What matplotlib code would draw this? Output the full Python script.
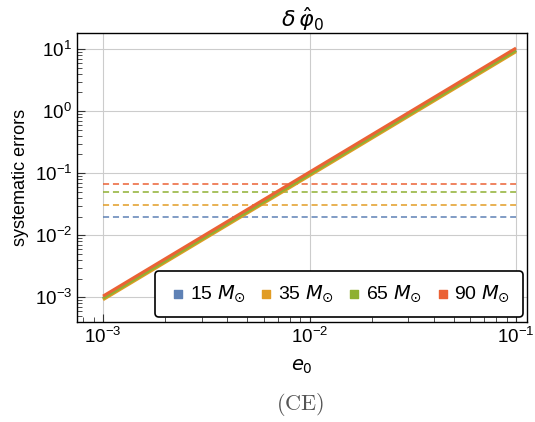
import numpy as np
import matplotlib.pyplot as plt

# masses and colours (Mathematica default palette)
masses = [15, 35, 65, 90]
colors = ['#5E81B5', '#E19C24', '#8FB032', '#EB6235']

# systematic error lines at e0 endpoints
e0 = [1e-3, 1e-1]
err_15 = [9.5e-4, 9.5]
err_35 = [9.1e-4, 9.1]
err_65 = [9.6e-4, 9.6]
err_90 = [1.04e-3, 10.4]
errs = [err_15, err_35, err_65, err_90]

# statistical error levels (dashed)
stat = [0.020, 0.031, 0.049, 0.068]


def main():
    plt.rcParams['font.family'] = ['Liberation Sans', 'DejaVu Sans']
    plt.rcParams['mathtext.fontset'] = 'dejavusans'

    fig = plt.figure(figsize=(5.35, 4.22), dpi=100)
    ax = fig.add_axes([77 / 535, 1 - 322 / 422, 450 / 535, 289 / 422])

    for m, c, y, s in zip(masses, colors, errs, stat):
        ax.plot(e0, [s, s], color=c, lw=1.1, ls=(0, (4, 2.5)))
    for m, c, y in zip(masses, colors, errs):
        ax.plot(e0, y, color=c, lw=2.2, solid_capstyle='butt')

    ax.set_xscale('log')
    ax.set_yscale('log')
    ax.set_xlim(10 ** -3.126, 10 ** -0.947)
    ax.set_ylim(10 ** -3.40, 10 ** 1.26)

    ax.grid(True, which='major', color='#cccccc', lw=0.8)
    ax.tick_params(which='both', direction='in', top=False, right=False,
                   labelsize=13.5, color='#333333')
    ax.tick_params(which='major', length=6)
    ax.tick_params(which='minor', length=3.5)
    for sp in ax.spines.values():
        sp.set_linewidth(1.0)

    ax.set_xlabel(r'$e_0$', fontsize=14, labelpad=8)
    ax.set_ylabel('systematic errors', fontsize=13)
    ax.set_title(r'$\delta\,\hat{\varphi}_0$', fontsize=16, pad=4)

    handles = [ax.scatter([], [], marker='s', s=26, color=c, edgecolors=c)
               for c in colors]
    labels = [r'%d $M_{\odot}$' % m for m in masses]
    leg = ax.legend(handles, labels, loc='lower right', ncol=4, fontsize=14,
                    handletextpad=0.05, columnspacing=0.5, borderpad=0.65,
                    handlelength=1.1, fancybox=True, framealpha=1,
                    borderaxespad=0, bbox_to_anchor=(0.991, 0.017))
    leg.get_frame().set_edgecolor('black')
    leg.get_frame().set_linewidth(1.2)

    fig.text(300 / 535, 1 - 405 / 422, r'$\mathrm{(CE)}$', ha='center',
             va='center', fontsize=16, color='#555555', math_fontfamily='cm')

    fig.savefig('out.png', dpi=100)


if __name__ == "__main__":
    main()
